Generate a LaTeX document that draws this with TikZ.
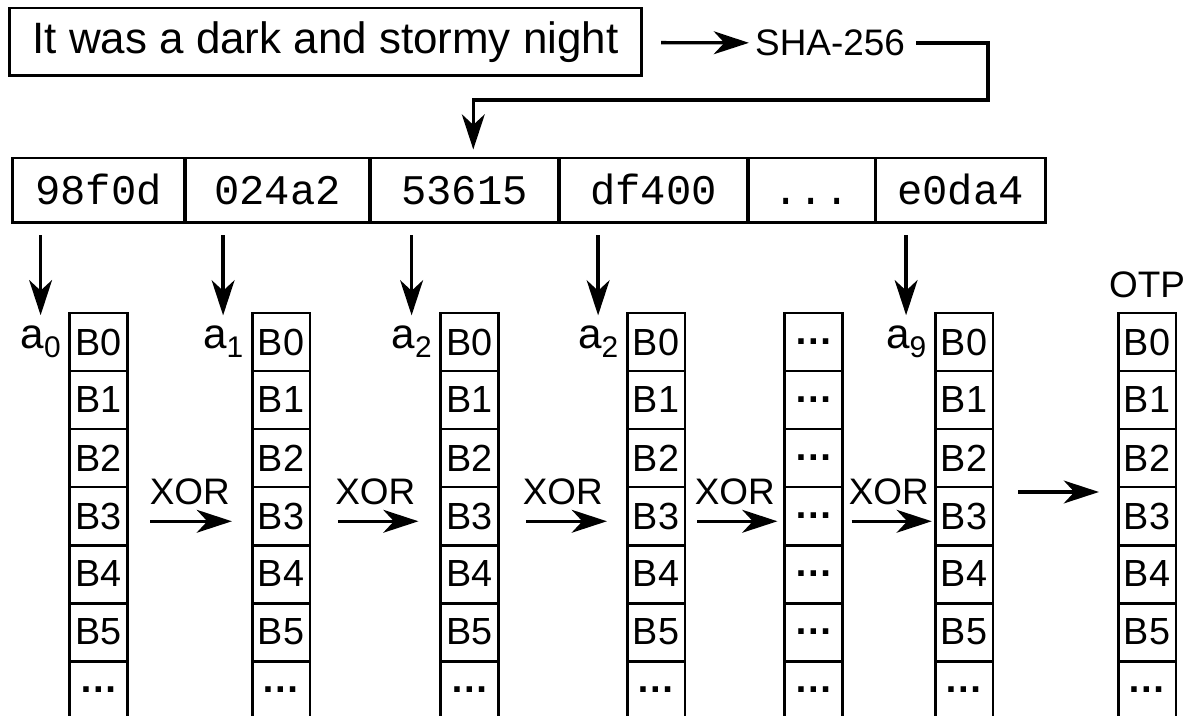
\documentclass[tikz,border=0pt]{standalone}
\usepackage{fontspec}
\setmainfont{Liberation Sans}
\newfontfamily\hashfont{Liberation Mono}
\usepackage{tikz}
\usetikzlibrary{arrows.meta, positioning}
\newcommand{\idx}[1]{\raisebox{-5pt}{\fontsize{17pt}{17pt}\selectfont #1}}
\newcommand{\cdotsbox}{{\fontsize{22pt}{24pt}\selectfont\bfseries …}}

\begin{document}
\begin{tikzpicture}[x=0.02cm, y=-0.02cm,
    cell/.style={draw, line width=1.7pt, minimum width=1.16cm, minimum height=1.16cm, inner sep=0pt, font=\fontsize{21.5pt}{24pt}\selectfont},
    hashcell/.style={draw, line width=1.7pt, minimum height=1.3cm, inner sep=0pt, text height=16pt, text depth=0pt, font=\hashfont\fontsize{24pt}{28pt}\selectfont},
    arr/.style={-{Stealth[length=20pt, width=13pt, inset=6pt]}, line width=1.9pt},
    idxlabel/.style={inner sep=0pt, font=\fontsize{24pt}{28pt}\selectfont},
    oplabel/.style={font=\fontsize{21pt}{24pt}\selectfont}]
  \useasboundingbox (0,0) rectangle (1184,716);
  \clip (0,0) rectangle (1184,716);

  % Message and hash
  \node[draw, line width=1.7pt, minimum width=12.66cm, minimum height=1.36cm, inner sep=0pt, font=\fontsize{25pt}{30pt}\selectfont] (msg) at (325.5, 42) {It was a dark and stormy night};
  \node[font=\fontsize{21pt}{25pt}\selectfont] (sha) at (830, 43) {SHA-256};
  \draw[arr, shorten <=10pt] (msg) -- (sha);

  % Digest split into chunks
  \node[hashcell, minimum width=3.46cm] (h1) at (98.5, 190.5) {98f0d};
  \node[hashcell, minimum width=3.7cm] (h2) at (277.5, 190.5) {024a2};
  \node[hashcell, minimum width=3.78cm] (h3) at (464.5, 190.5) {53615};
  \node[hashcell, minimum width=3.78cm] (h4) at (653.5, 190.5) {df400};
  \node[hashcell, minimum width=2.54cm] (h5) at (811.5, 190.5) {...};
  \node[hashcell, minimum width=3.42cm] (h6) at (960.5, 190.5) {e0da4};
  \coordinate (bend) at (988, 100);
  \draw[arr, shorten <=3pt, shorten >=4pt] (sha.east) -| (bend) -| ([xshift=5pt]h3.north);

  % Block columns
  \foreach \c/\x in {1/98.5, 2/281, 3/469.5, 4/656, 6/964, 7/1147} {
    \foreach \r in {0,...,5}
      \node[cell] (c\c-\r) at (\x, 342+58*\r) {B\r};
    \node[cell] (c\c-6) at (\x, 690) {\cdotsbox};
  }
  \foreach \r in {0,...,6}
    \node[cell] (c5-\r) at (813.5, 342+58*\r) {\cdotsbox};

  % Chunk indices
  \node[idxlabel, left=4pt of c1-0] (a0) {a\idx{0}};
  \node[idxlabel, left=4pt of c2-0] (a1) {a\idx{1}};
  \node[idxlabel, left=4pt of c3-0] (a2) {a\idx{2}};
  \node[idxlabel, left=4pt of c4-0] (a2b) {a\idx{2}};
  \node[idxlabel, left=4pt of c6-0] (a9) {a\idx{9}};
  \draw[arr, shorten <=6pt, shorten >=6pt] (h1.south -| a0.north) -- (a0.north);
  \draw[arr, shorten <=6pt, shorten >=6pt] (h2.south -| a1.north) -- (a1.north);
  \draw[arr, shorten <=6pt, shorten >=6pt] (h3.south -| a2.north) -- (a2.north);
  \draw[arr, shorten <=6pt, shorten >=6pt] (h4.south -| a2b.north) -- (a2b.north);
  \draw[arr, shorten <=6pt, shorten >=6pt] (h6.south -| a9.north) -- (a9.north);

  % XOR steps
  \draw[arr, shorten <=12pt, shorten >=10.6pt] ([yshift=-3pt]c1-3.east) -- node[oplabel, above=5pt] (x1) {XOR} ([yshift=-3pt]c2-3.west);
  \draw[arr, shorten <=15pt, shorten >=11.7pt] ([yshift=-3pt]c2-3.east) -- node[oplabel, above=5pt] (x2) {XOR} ([yshift=-3pt]c3-3.west);
  \draw[arr, shorten <=15pt, shorten >=10.6pt] ([yshift=-3pt]c3-3.east) -- node[oplabel, above=5pt] (x3) {XOR} ([yshift=-3pt]c4-3.west);
  \draw[arr, shorten <=6pt, shorten >=3.2pt] ([yshift=-3pt]c4-3.east) -- node[oplabel, above=5pt] (x4) {XOR} ([yshift=-3pt]c5-3.west);
  \draw[arr, shorten <=4.3pt, shorten >=1pt] ([yshift=-3pt]c5-3.east) -- node[oplabel, above=5pt] (x5) {XOR} ([yshift=-3pt]c6-3.west);
  \draw[arr, shorten <=13.5pt, shorten >=10pt] ([yshift=-2pt]c6-2.south east) -- ([yshift=-2pt]c7-2.south west);

  % Result
  \node[oplabel, above=4pt of c7-0] (otp) {OTP};
\end{tikzpicture}
\end{document}
